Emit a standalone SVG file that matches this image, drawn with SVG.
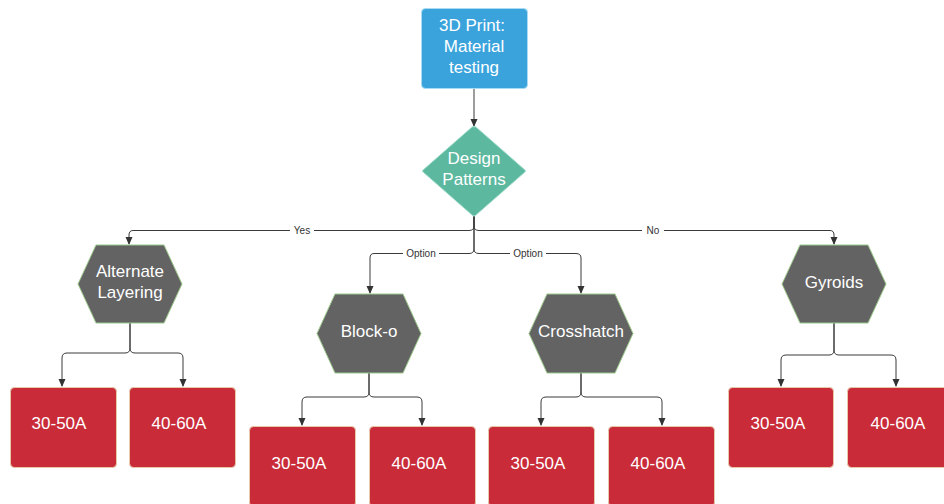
<svg xmlns="http://www.w3.org/2000/svg" width="944" height="504" viewBox="0 0 944 504">
  <defs>
    <marker id="arrow" markerWidth="8" markerHeight="8" refX="7" refY="4" orient="auto" markerUnits="userSpaceOnUse">
      <path d="M0,0.5 L8,4 L0,7.5 Z" fill="#333333"/>
    </marker>
    <style>
      .lbl { font-family: "Liberation Sans", Arial, sans-serif; font-size: 17px; fill: #ffffff; text-anchor: middle; }
      .edge { fill: none; stroke: #3a3a3a; stroke-width: 1; marker-end: url(#arrow); }
      .etext { font-family: "Liberation Sans", Arial, sans-serif; font-size: 10px; fill: #333333; text-anchor: middle; }
      .ebg { fill: #ffffff; }
      .start { fill: #3aa3dc; stroke: #a9dcf4; stroke-width: 1; }
      .decision { fill: #5cb89f; stroke: #a8e0cf; stroke-width: 1; }
      .hex { fill: #636363; stroke: #9cc88c; stroke-width: 1; }
      .result { fill: #c92b39; stroke: #e6c9a8; stroke-width: 1; }
    </style>
  </defs>

  <rect width="944" height="504" fill="#ffffff"/>

  <!-- connectors -->
  <g id="connectors">
    <path class="edge" d="M474,88 V126"/>
    <!-- Yes -->
    <path class="edge" d="M474,216 V226 Q474,230.5 469,230.5 H133 Q129,230.5 129,235 V244"/>
    <!-- No -->
    <path class="edge" d="M474,216 V226 Q474,230.5 479,230.5 H830 Q834,230.5 834,235 V244"/>
    <!-- Option left -->
    <path class="edge" d="M474,216 V249 Q474,253.5 469,253.5 H374 Q370,253.5 370,258 V293"/>
    <!-- Option right -->
    <path class="edge" d="M474,216 V249 Q474,253.5 479,253.5 H576 Q581,253.5 581,258 V293"/>

    <!-- Alternate Layering children -->
    <path class="edge" d="M130,323 V348 Q130,353 125,353 H67 Q62,353 62,358 V386"/>
    <path class="edge" d="M130,323 V348 Q130,353 135,353 H178 Q183,353 183,358 V386"/>
    <!-- Block-o children -->
    <path class="edge" d="M369,373 V392 Q369,397 364,397 H307 Q302,397 302,402 V425"/>
    <path class="edge" d="M369,373 V392 Q369,397 374,397 H417 Q422,397 422,402 V425"/>
    <!-- Crosshatch children -->
    <path class="edge" d="M581,373 V392 Q581,397 576,397 H546 Q541,397 541,402 V425"/>
    <path class="edge" d="M581,373 V392 Q581,397 586,397 H657 Q662,397 662,402 V425"/>
    <!-- Gyroids children -->
    <path class="edge" d="M834,323 V350 Q834,355 829,355 H786 Q781,355 781,360 V386"/>
    <path class="edge" d="M834,323 V350 Q834,355 839,355 H891 Q896,355 896,360 V386"/>

    <!-- edge labels -->
    <rect class="ebg" x="290" y="224" width="24" height="12"/>
    <text class="etext" x="302" y="234">Yes</text>
    <rect class="ebg" x="642" y="224" width="22" height="12"/>
    <text class="etext" x="653" y="234">No</text>
    <rect class="ebg" x="403" y="247" width="36" height="12"/>
    <text class="etext" x="421" y="257">Option</text>
    <rect class="ebg" x="510" y="247" width="36" height="12"/>
    <text class="etext" x="528" y="257">Option</text>
  </g>

  <!-- nodes -->
  <g id="start">
    <rect class="start" x="421.5" y="8.5" width="106" height="80" rx="4"/>
    <text class="lbl" x="472" y="31">3D Print:</text>
    <text class="lbl" x="474" y="52">Material</text>
    <text class="lbl" x="474" y="73">testing</text>
  </g>

  <g id="design-patterns">
    <path class="decision" d="M474,127 Q475,126 476,127 L525,170 Q526,171 525,172 L476,215 Q475,216 474,216 Q473,216 472,215 L423,172 Q422,171 423,170 L472,127 Q473,126 474,127 Z"/>
    <text class="lbl" x="474" y="164">Design</text>
    <text class="lbl" x="474" y="185">Patterns</text>
  </g>

  <g id="alternate-layering">
    <path class="hex" d="M96,245 H164 L182,284 L164,323 H96 L78,284 Z" stroke-linejoin="round"/>
    <text class="lbl" x="130" y="277">Alternate</text>
    <text class="lbl" x="130" y="298">Layering</text>
  </g>

  <g id="block-o">
    <path class="hex" d="M335,294 H403 L421,333.5 L403,373 H335 L317,333.5 Z" stroke-linejoin="round"/>
    <text class="lbl" x="369" y="337">Block-o</text>
  </g>

  <g id="crosshatch">
    <path class="hex" d="M547,294 H615 L633,333.5 L615,373 H547 L529,333.5 Z" stroke-linejoin="round"/>
    <text class="lbl" x="581" y="337">Crosshatch</text>
  </g>

  <g id="gyroids">
    <path class="hex" d="M800,245 H868 L886,284 L868,323 H800 L782,284 Z" stroke-linejoin="round"/>
    <text class="lbl" x="834" y="288">Gyroids</text>
  </g>

  <g id="alt-30-50">
    <rect class="result" x="10.5" y="387.5" width="106" height="80" rx="4"/>
    <text class="lbl" x="59" y="429">30-50A</text>
  </g>
  <g id="alt-40-60">
    <rect class="result" x="129.5" y="387.5" width="106" height="80" rx="4"/>
    <text class="lbl" x="179" y="429">40-60A</text>
  </g>

  <g id="block-30-50">
    <rect class="result" x="249.5" y="426.5" width="106" height="80" rx="4"/>
    <text class="lbl" x="299" y="469">30-50A</text>
  </g>
  <g id="block-40-60">
    <rect class="result" x="369.5" y="426.5" width="106" height="80" rx="4"/>
    <text class="lbl" x="419" y="469">40-60A</text>
  </g>

  <g id="cross-30-50">
    <rect class="result" x="488.5" y="426.5" width="106" height="80" rx="4"/>
    <text class="lbl" x="538" y="469">30-50A</text>
  </g>
  <g id="cross-40-60">
    <rect class="result" x="608.5" y="426.5" width="106" height="80" rx="4"/>
    <text class="lbl" x="658" y="469">40-60A</text>
  </g>

  <g id="gyro-30-50">
    <rect class="result" x="728.5" y="387.5" width="105" height="80" rx="4"/>
    <text class="lbl" x="778" y="429">30-50A</text>
  </g>
  <g id="gyro-40-60">
    <rect class="result" x="847.5" y="387.5" width="106" height="80" rx="4"/>
    <text class="lbl" x="898" y="429">40-60A</text>
  </g>
</svg>
